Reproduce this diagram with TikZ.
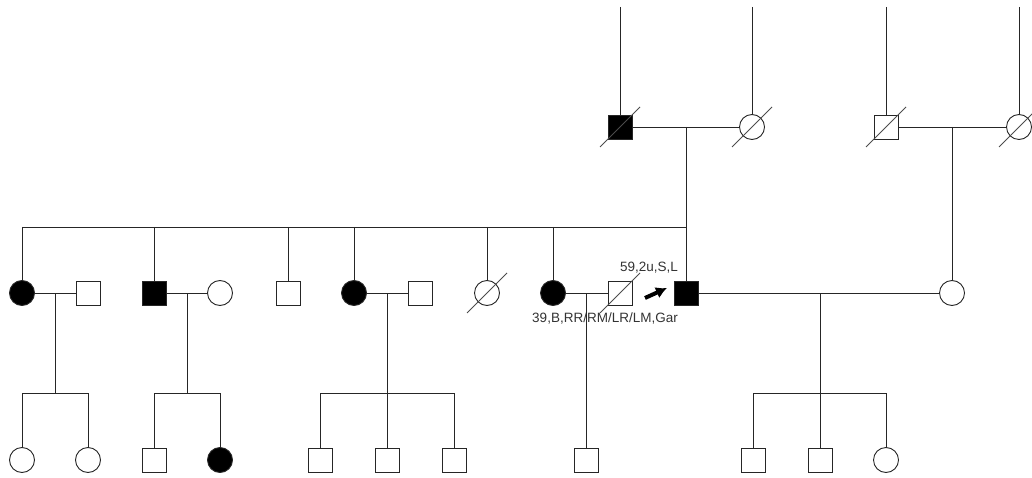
\documentclass[tikz,border=0pt]{standalone}
\usepackage{fontspec}
\setmainfont{Liberation Sans}
\usetikzlibrary{positioning,arrows.meta}

\begin{document}
\begin{tikzpicture}[
        x=1pt, y=-1pt,
        every node/.style={font=\fontsize{13.5}{16}\selectfont, text=black!80},
        line/.style={draw=black!85, line width=0.9pt},
        male/.style={line, rectangle, minimum size=24pt, inner sep=0pt, fill=white},
        female/.style={line, circle, minimum size=25pt, inner sep=0pt, fill=white},
        affected/.style={fill=black},
        slash/.style={draw=black!70, line width=0.8pt},
        pointer/.style={-{Latex[length=11pt,width=12pt]}, line width=4pt, black}
    ]
        \useasboundingbox (0,0) rectangle (1032,478);

        % grandparents
        \node[male, affected] (pgf) at (620,127) {};
        \node[female]         (pgm) at (752,127) {};
        \node[male]           (mgf) at (886,127) {};
        \node[female]         (mgm) at (1019,127) {};

        % sibship of the proband
        \node[female, affected] (s1)  at (22,293)  {};
        \node[male]             (s1p) at (88,293)  {};
        \node[male, affected]   (s2)  at (154,293) {};
        \node[female]           (s2p) at (220,293) {};
        \node[male]             (s3)  at (288,293) {};
        \node[female, affected] (s4)  at (354,293) {};
        \node[male]             (s4p) at (420,293) {};
        \node[female]           (s5)  at (487,293) {};
        \node[female, affected] (s6)  at (553,293) {};
        \node[male]             (s6p) at (620,293) {};
        \node[male, affected]   (pro) at (686,293) {};
        \node[female]           (wife) at (952,293) {};

        % children
        \node[female]           (c11) at (22,460)  {};
        \node[female]           (c12) at (88,460)  {};
        \node[male]             (c21) at (154,460) {};
        \node[female, affected] (c22) at (220,460) {};
        \node[male]             (c41) at (320,460) {};
        \node[male]             (c42) at (387,460) {};
        \node[male]             (c43) at (454,460) {};
        \node[male]             (c61) at (586,460) {};
        \node[male]             (c71) at (753,460) {};
        \node[male]             (c72) at (820,460) {};
        \node[female]           (c73) at (886,460) {};

        % labels
        \node (lbl1) at (649,268) {59,2u,S,L};
        \node (lbl2) at (605,318) {39,B,RR/RM/LR/LM,Gar};

        % helper points
        \coordinate (top)  at (0,7);
        \coordinate (pgc)  at (686,127);
        \coordinate (mgc)  at (952,127);
        \coordinate (sibL) at (22,227);
        \coordinate (sibR) at (686,227);
        \coordinate (m1) at (55,293);
        \coordinate (m2) at (187,293);
        \coordinate (m4) at (387,293);
        \coordinate (m6) at (586,293);
        \coordinate (m7) at (820,293);
        \coordinate (k1) at (55,393);
        \coordinate (k2) at (187,393);
        \coordinate (k4) at (387,393);
        \coordinate (k7) at (820,393);
        \coordinate (arrS) at (645,298);
        \coordinate (arrE) at (667,288);

        % lines to earlier generations
        \foreach \n in {pgf,pgm,mgf,mgm}
            \draw[line] (\n |- top) -- (\n);

        % couples
        \draw[line] (pgf) -- (pgm);
        \draw[line] (mgf) -- (mgm);
        \draw[line] (s1) -- (s1p);
        \draw[line] (s2) -- (s2p);
        \draw[line] (s4) -- (s4p);
        \draw[line] (s6) -- (s6p);
        \draw[line] (pro) -- (wife);

        % descent
        \draw[line] (pgc) -- (pro);
        \draw[line] (mgc) -- (wife);
        \draw[line] (sibL) -- (sibR);
        \foreach \n in {s1,s2,s3,s4,s5,s6}
            \draw[line] (\n |- sibL) -- (\n);
        \draw[line] (m1) -- (k1);
        \draw[line] (m2) -- (k2);
        \draw[line] (m4) -- (k4);
        \draw[line] (m7) -- (k7);
        \draw[line] (c11 |- k1) -- (c12 |- k1);
        \draw[line] (c21 |- k2) -- (c22 |- k2);
        \draw[line] (c41 |- k4) -- (c43 |- k4);
        \draw[line] (c71 |- k7) -- (c73 |- k7);
        \foreach \n/\k in {c11/k1,c12/k1,c21/k2,c22/k2,c41/k4,c42/k4,c43/k4,c71/k7,c72/k7,c73/k7}
            \draw[line] (\n |- \k) -- (\n);
        \draw[line] (m6) -- (c61);

        % deceased
        \foreach \n in {pgf,pgm,mgf,mgm,s5,s6p}
            \draw[slash] ([shift={(-20,20)}]\n.center) -- ([shift={(20,-20)}]\n.center);

        % proband
        \draw[pointer] (arrS) -- (arrE);
    \end{tikzpicture}
\end{document}
